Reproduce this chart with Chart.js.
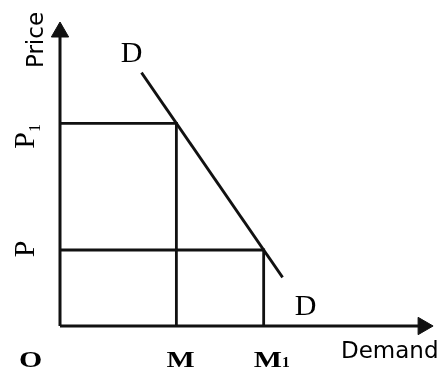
<!DOCTYPE html>
<html>
<head>
<meta charset="utf-8">
<script src="https://cdn.jsdelivr.net/npm/chart.js@4.4.1/dist/chart.umd.min.js"></script>
<style>
    html, body { margin: 0; padding: 0; background: #fff; }
</style>
</head>
<body>
<canvas id="grafica" width="444" height="370"></canvas>
<script>
// quantities on the demand axis and the prices that go with them
const quantities = [4, 7];            // M, M1
const prices = [8, 3];                // P1, P
const quantityLabels = ['M', 'M₁'];
const priceLabels = ['P₁', 'P'];
const originLabel = 'O';

// the demand curve D-D (two ends of a straight line)
const demandQty = [2.8, 7.65];
const demandPrice = [10, 1.92];
const curveLabel = 'D';

const xTitle = 'Demand';
const yTitle = 'Price';
const xMax = 12.82;
const yMax = 12;

const ink = '#111';

function splitSub(label) {
    const subs = '₀₁₂₃₄₅₆₇₈₉';
    let main = '', sub = '';
    for (const ch of label) {
        const i = subs.indexOf(ch);
        if (i >= 0) sub += String(i); else main += ch;
    }
    return [main, sub];
}

function drawWide(ctx, text, x, y, font, stretch) {
    ctx.save();
    ctx.font = font;
    ctx.translate(x, y);
    ctx.scale(stretch, 1);
    ctx.fillText(text, 0, 0);
    const w = ctx.measureText(text).width * stretch;
    ctx.restore();
    return w;
}

const textPlugin = {
    id: 'textos',
    afterDraw(chart) {
        const { ctx } = chart;
        const sx = chart.scales.x;
        const sy = chart.scales.y;
        const x0 = sx.getPixelForValue(0);
        const y0 = sy.getPixelForValue(0);

        ctx.save();
        ctx.fillStyle = '#000';
        ctx.textAlign = 'left';
        ctx.textBaseline = 'alphabetic';

        // origin
        drawWide(ctx, originLabel, x0 - 41, y0 + 41, 'bold 23px "Liberation Serif"', 1.3);

        // M, M1 under the axis
        quantities.forEach((q, i) => {
            const [main, sub] = splitSub(quantityLabels[i]);
            const px = sx.getPixelForValue(q) - 10;
            const w = drawWide(ctx, main, px, y0 + 41, 'bold 23px "Liberation Serif"', 1.3);
            if (sub) drawWide(ctx, sub, px + w, y0 + 41, 'bold 14px "Liberation Serif"', 1.1);
        });

        // P1, P beside the price axis (rotated)
        prices.forEach((p, i) => {
            const [main, sub] = splitSub(priceLabels[i]);
            const py = sy.getPixelForValue(p);
            ctx.save();
            ctx.translate(x0 - 26, py + (sub ? 17 : -1));
            ctx.rotate(-Math.PI / 2);
            ctx.font = '30px "Liberation Serif"';
            ctx.textAlign = 'center';
            ctx.fillText(main, 0, 0);
            if (sub) {
                const w = ctx.measureText(main).width;
                ctx.font = '16px "Liberation Serif"';
                ctx.textAlign = 'left';
                ctx.fillText(sub, w / 2, 6);
            }
            ctx.restore();
        });

        // axis titles
        ctx.save();
        ctx.translate(x0 - 17, sy.top + 18);
        ctx.rotate(-Math.PI / 2);
        ctx.font = '23px "DejaVu Sans"';
        ctx.textAlign = 'center';
        ctx.fillText(yTitle, 0, 0);
        ctx.restore();

        ctx.font = '23px "DejaVu Sans"';
        ctx.textAlign = 'left';
        ctx.fillText(xTitle, sx.right - 92, y0 + 32);

        // D labels at both ends of the curve
        ctx.font = '30px "Liberation Serif"';
        ctx.textAlign = 'center';
        ctx.fillText(curveLabel, sx.getPixelForValue(demandQty[0]) - 10, sy.getPixelForValue(demandPrice[0]) - 11);
        ctx.fillText(curveLabel, sx.getPixelForValue(demandQty[1]) + 23, sy.getPixelForValue(demandPrice[1]) + 38);
        ctx.restore();
    }
};

function lineSet(points, width) {
    return {
        data: points,
        showLine: true,
        borderColor: ink,
        borderWidth: width,
        pointRadius: 0,
        clip: false
    };
}

const xArrow = xMax - 10 / 29.4;
const yArrow = yMax - 10 / 25.33;

const ctx = document.getElementById('grafica').getContext('2d');
new Chart(ctx, {
    type: 'scatter',
    data: {
        datasets: [
            lineSet([{ x: 0, y: 0 }, { x: 0, y: yArrow }], 3),
            lineSet([{ x: 0, y: 0 }, { x: xArrow, y: 0 }], 3),
            lineSet([{ x: 0, y: prices[0] }, { x: quantities[0], y: prices[0] }, { x: quantities[0], y: 0 }], 2.8),
            lineSet([{ x: 0, y: prices[1] }, { x: quantities[1], y: prices[1] }, { x: quantities[1], y: 0 }], 2.8),
            lineSet(demandQty.map((q, i) => ({ x: q, y: demandPrice[i] })), 2.8),
            {
                data: [{ x: 0, y: yArrow }],
                pointStyle: 'triangle',
                pointRadius: 10,
                pointRotation: 0,
                backgroundColor: ink,
                borderColor: ink,
                borderWidth: 1,
                clip: false
            },
            {
                data: [{ x: xArrow, y: 0 }],
                pointStyle: 'triangle',
                pointRadius: 10,
                pointRotation: 90,
                backgroundColor: ink,
                borderColor: ink,
                borderWidth: 1,
                clip: false
            }
        ]
    },
    options: {
        responsive: false,
        animation: false,
        layout: { padding: { left: 60, right: 7, top: 22, bottom: 44 } },
        plugins: { legend: { display: false }, tooltip: { enabled: false } },
        scales: {
            x: { type: 'linear', min: 0, max: xMax, display: false },
            y: { type: 'linear', min: 0, max: yMax, display: false }
        }
    },
    plugins: [textPlugin]
});
</script>
</body>
</html>
